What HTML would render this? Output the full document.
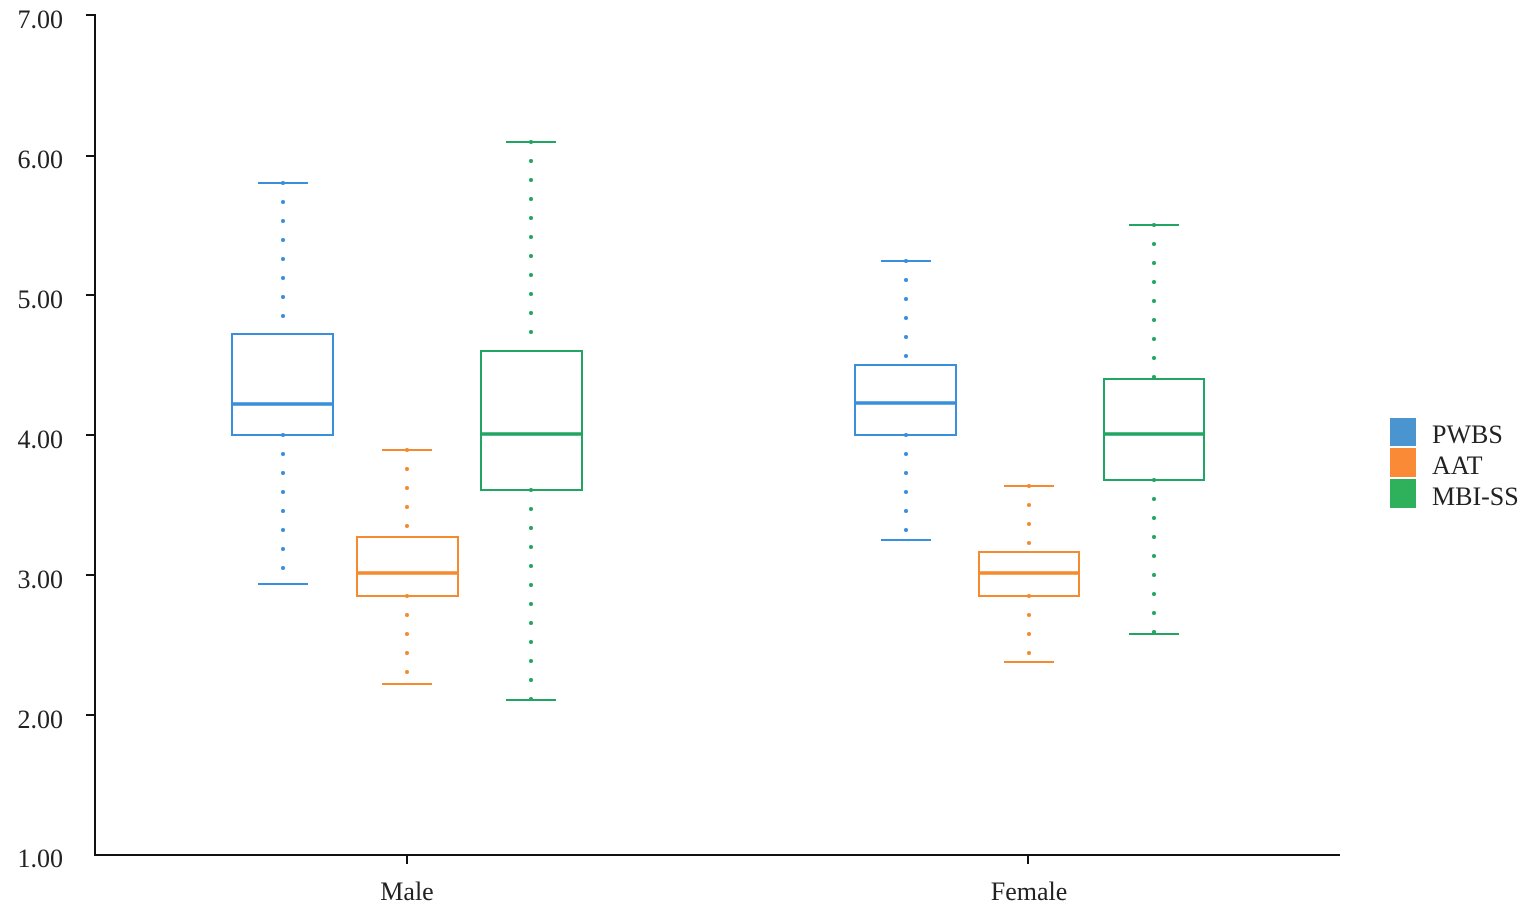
<!DOCTYPE html><html><head><style>body{margin:0;background:#fff}svg text{font-family:"Liberation Serif",serif;fill:#222}</style></head><body>
<svg width="1535" height="914" viewBox="0 0 1535 914" xmlns="http://www.w3.org/2000/svg">
<g stroke="#111" stroke-width="2" fill="none">
<line x1="95" y1="14" x2="95" y2="855"/><line x1="94" y1="855" x2="1340" y2="855"/>
<line x1="86" y1="15" x2="95" y2="15"/><line x1="86" y1="156" x2="95" y2="156"/><line x1="86" y1="295" x2="95" y2="295"/><line x1="86" y1="435" x2="95" y2="435"/><line x1="86" y1="575" x2="95" y2="575"/><line x1="86" y1="715" x2="95" y2="715"/>
<line x1="407" y1="855" x2="407" y2="864"/><line x1="1028" y1="855" x2="1028" y2="864"/>
</g>
<g font-size="26" text-anchor="end">
<text x="63" y="28">7.00</text><text x="63" y="168">6.00</text><text x="63" y="308">5.00</text><text x="63" y="448">4.00</text><text x="63" y="588">3.00</text><text x="63" y="728">2.00</text><text x="63" y="867">1.00</text>
</g>
<g font-size="26" text-anchor="middle"><text x="407" y="900">Male</text><text x="1029" y="900">Female</text></g>
<g fill="none" stroke-width="2">
<g stroke="#3a8fdc"><line x1="258" y1="183" x2="308" y2="183"/><line x1="283" y1="183" x2="283" y2="334" stroke-width="4" stroke-dasharray="0 19" stroke-linecap="round"/><rect x="232" y="334" width="101" height="101"/><line x1="232" y1="404" x2="333" y2="404" stroke-width="3.5"/><line x1="283" y1="435" x2="283" y2="584" stroke-width="4" stroke-dasharray="0 19" stroke-linecap="round"/><line x1="258" y1="584" x2="308" y2="584"/></g>
<g stroke="#f58a2e"><line x1="382" y1="450" x2="432" y2="450"/><line x1="407" y1="450" x2="407" y2="537" stroke-width="4" stroke-dasharray="0 19" stroke-linecap="round"/><rect x="357" y="537" width="101" height="59"/><line x1="357" y1="573" x2="458" y2="573" stroke-width="3.5"/><line x1="407" y1="596" x2="407" y2="684" stroke-width="4" stroke-dasharray="0 19" stroke-linecap="round"/><line x1="382" y1="684" x2="432" y2="684"/></g>
<g stroke="#22a562"><line x1="506" y1="142" x2="556" y2="142"/><line x1="531" y1="142" x2="531" y2="351" stroke-width="4" stroke-dasharray="0 19" stroke-linecap="round"/><rect x="481" y="351" width="101" height="139"/><line x1="481" y1="434" x2="582" y2="434" stroke-width="3.5"/><line x1="531" y1="490" x2="531" y2="700" stroke-width="4" stroke-dasharray="0 19" stroke-linecap="round"/><line x1="506" y1="700" x2="556" y2="700"/></g>
<g stroke="#3a8fdc"><line x1="881" y1="261" x2="931" y2="261"/><line x1="906" y1="261" x2="906" y2="365" stroke-width="4" stroke-dasharray="0 19" stroke-linecap="round"/><rect x="855" y="365" width="101" height="70"/><line x1="855" y1="403" x2="956" y2="403" stroke-width="3.5"/><line x1="906" y1="435" x2="906" y2="540" stroke-width="4" stroke-dasharray="0 19" stroke-linecap="round"/><line x1="881" y1="540" x2="931" y2="540"/></g>
<g stroke="#f58a2e"><line x1="1004" y1="486" x2="1054" y2="486"/><line x1="1029" y1="486" x2="1029" y2="552" stroke-width="4" stroke-dasharray="0 19" stroke-linecap="round"/><rect x="979" y="552" width="100" height="44"/><line x1="979" y1="573" x2="1079" y2="573" stroke-width="3.5"/><line x1="1029" y1="596" x2="1029" y2="662" stroke-width="4" stroke-dasharray="0 19" stroke-linecap="round"/><line x1="1004" y1="662" x2="1054" y2="662"/></g>
<g stroke="#22a562"><line x1="1129" y1="225" x2="1179" y2="225"/><line x1="1154" y1="225" x2="1154" y2="379" stroke-width="4" stroke-dasharray="0 19" stroke-linecap="round"/><rect x="1104" y="379" width="100" height="101"/><line x1="1104" y1="434" x2="1204" y2="434" stroke-width="3.5"/><line x1="1154" y1="480" x2="1154" y2="634" stroke-width="4" stroke-dasharray="0 19" stroke-linecap="round"/><line x1="1129" y1="634" x2="1179" y2="634"/></g>
</g>
<rect x="1390" y="418" width="26" height="28" fill="#4a94d0"/><rect x="1390" y="448" width="26" height="29" fill="#fb8a36"/><rect x="1390" y="479" width="26" height="29" fill="#2eb15a"/>
<g font-size="26"><text x="1432" y="443">PWBS</text><text x="1432" y="474">AAT</text><text x="1432" y="505">MBI-SS</text></g>
</svg></body></html>
